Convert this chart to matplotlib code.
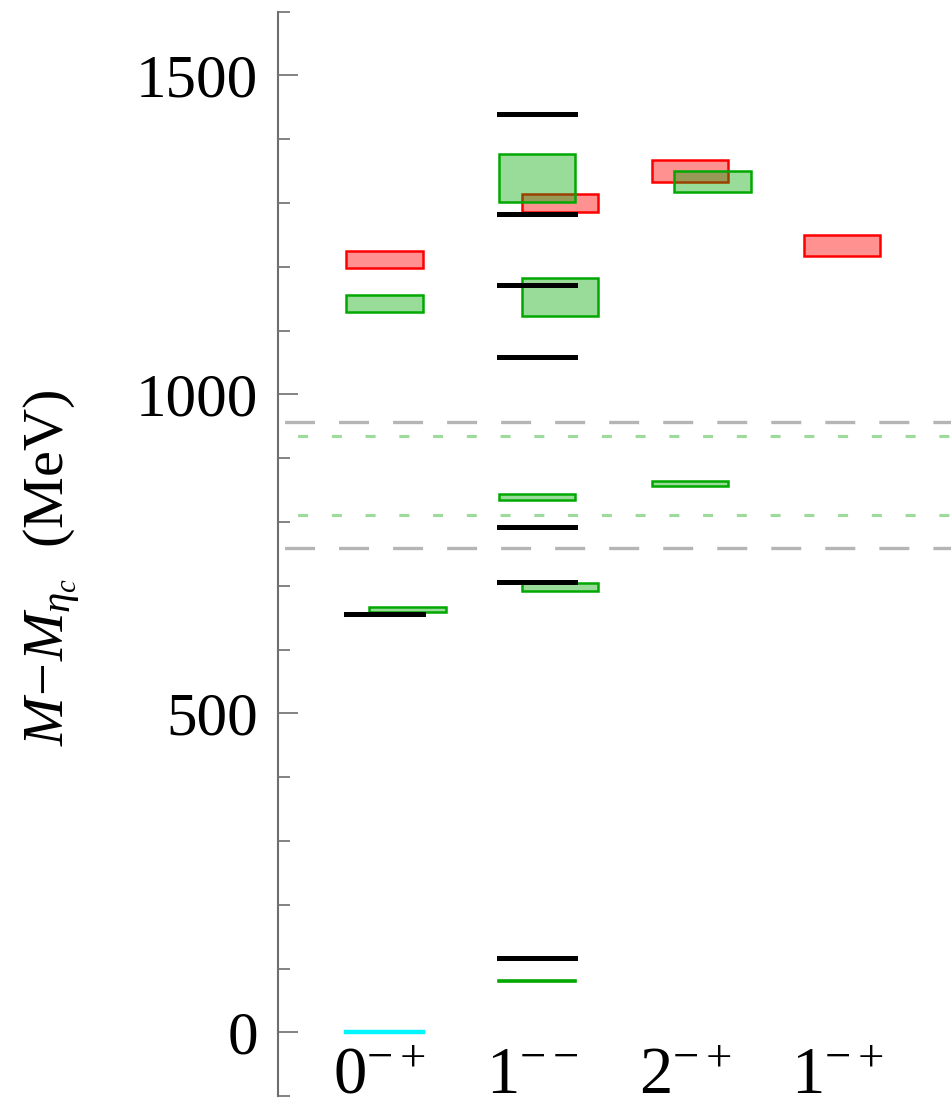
import matplotlib
matplotlib.use("Agg")
import matplotlib.pyplot as plt

plt.rcParams["font.family"] = ["Liberation Serif", "DejaVu Serif"]
plt.rcParams["mathtext.fontset"] = "custom"
plt.rcParams["mathtext.rm"] = "Liberation Serif"
plt.rcParams["mathtext.it"] = "Liberation Serif:italic"
plt.rcParams["mathtext.bf"] = "Liberation Serif:bold"
plt.rcParams["lines.scale_dashes"] = False

# J^PC channels along the x axis
channels = ["$0^{-+}$", "$1^{--}$", "$2^{-+}$", "$1^{-+}$"]

# experimental levels (MeV above eta_c), by channel index
exp_channel = [0, 1, 1, 1, 1, 1, 1, 1]
exp_mass = [656, 1440, 1282, 1172, 1058, 792, 706, 116]

# reference level (eta_c itself)
ref_channel = [0]
ref_mass = [0]

# lattice ground-state line with negligible error
gs_channel = [1]
gs_mass = [80]

# red boxes: central value and half-height
red_channel = [0, 1, 2, 3]
red_mass = [1211, 1300, 1350, 1233]
red_err = [13, 14, 17.5, 17]
red_shift = [0, 1, 0, 0]

# green boxes: central value and half-height
green_channel = [0, 0, 1, 1, 1, 1, 2, 2]
green_mass = [1142, 662, 1339, 1153, 839, 698, 1333.5, 860]
green_err = [13, 4, 37, 30, 4, 7, 17, 4]
green_shift = [0, 1, 0, 1, 0, 1, 1, 0]

# thresholds
exp_thresholds = [956, 758.6]
lat_thresholds = [935, 811]

ticks_major = [0, 500, 1000, 1500]

W, H = 951, 1100
fig = plt.figure(figsize=(W / 100, H / 100), dpi=100)
ax = fig.add_axes([277.8 / W, 1 - 1096.1 / H, 1 - 277.8 / W, (1096.1 - 11.5) / H])
ax.set_xlim(0.3, 4.713)
ax.set_ylim(-100, 1600)

half = 0.25
step = 0.15

# threshold lines
for m in exp_thresholds:
    ax.plot([0.3, 4.713], [m, m], color="#b5b5b5", lw=2.4,
            linestyle=(34.2, (21.6, 17.3)), zorder=1)
for m in lat_thresholds:
    ax.plot([0.3, 4.713], [m, m], color="#9ddb9d", lw=2.2,
            linestyle=(10.2, (7.2, 17.1)), zorder=1)

# red boxes
for c, m, e, s in zip(red_channel, red_mass, red_err, red_shift):
    x = c + 1 + s * step
    ax.bar(x, 2 * e, bottom=m - e, width=2 * half, align="center",
           facecolor=(1, 0, 0, 0.43), edgecolor="#ff0000", linewidth=1.8, zorder=2)

# green boxes
for c, m, e, s in zip(green_channel, green_mass, green_err, green_shift):
    x = c + 1 + s * step
    ax.bar(x, 2 * e, bottom=m - e, width=2 * half, align="center",
           facecolor=(0, 0.65, 0, 0.4), edgecolor="#00a800", linewidth=1.8, zorder=3)

# experimental levels
for c, m in zip(exp_channel, exp_mass):
    x = c + 1
    ax.plot([x - half, x + half], [m, m], color="black", lw=3.6,
            solid_capstyle="projecting", zorder=4)

for c, m in zip(gs_channel, gs_mass):
    x = c + 1
    ax.plot([x - half, x + half], [m, m], color="#00a800", lw=2.6,
            solid_capstyle="projecting", zorder=4)

for c, m in zip(ref_channel, ref_mass):
    x = c + 1
    ax.plot([x - half, x + half], [m, m], color="#00f5ff", lw=3.2,
            solid_capstyle="projecting", zorder=4)

# channel labels along the bottom
for i, lab in enumerate(channels):
    ax.text(i + 1 - 0.03, -95, lab, ha="center", va="baseline", fontsize=48, zorder=5)

# axes styling
for side in ["top", "right", "bottom"]:
    ax.spines[side].set_visible(False)
ax.spines["left"].set_color("#6e6e6e")
ax.spines["left"].set_linewidth(1.5)
ax.set_xticks([])
ax.set_yticks(ticks_major)
ax.set_yticklabels([str(t) for t in ticks_major], fontsize=44)
ax.set_yticks(list(range(-100, 1601, 100)), minor=True)
ax.tick_params(axis="y", which="major", direction="in", length=14.5, width=1.2,
               color="#6e6e6e", pad=14)
ax.tick_params(axis="y", which="minor", direction="in", length=8.6, width=1.2,
               color="#6e6e6e")

fig.text(52 / W, 1 - 568 / H, r"$M\!-\!M_{\eta_c}$  (MeV)", rotation=90,
         ha="center", va="center", fontsize=42)

fig.savefig("out.png", dpi=100)
